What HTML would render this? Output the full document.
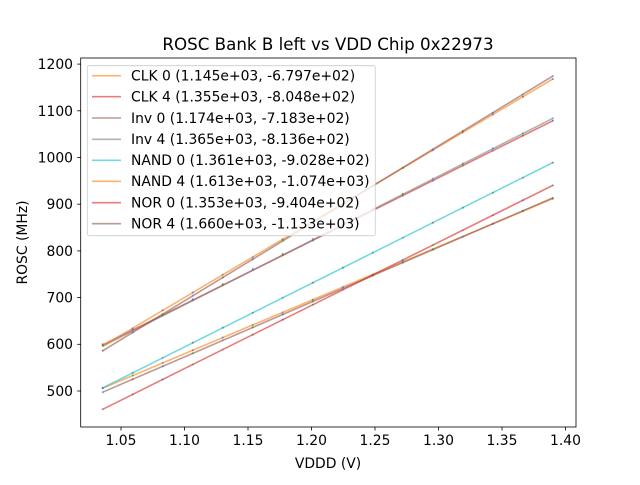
<!DOCTYPE html>
<html><head><meta charset="utf-8"><style>
body{margin:0;background:#fff}
text{font-family:"DejaVu Sans","Liberation Sans",sans-serif;fill:#000}
</style></head><body>
<svg id="s" width="640" height="480" xmlns="http://www.w3.org/2000/svg">
<rect width="640" height="480" fill="#fff"/>
<g id="lines" stroke-width="1.6" fill="none" stroke-opacity="0.6">
<line x1="102.7" y1="388.2" x2="552.8" y2="198.6" stroke="#ff7f0e"/>
<line x1="102.7" y1="345.0" x2="552.8" y2="120.8" stroke="#d62728"/>
<line x1="102.7" y1="392.2" x2="552.8" y2="197.9" stroke="#8c564b"/>
<line x1="102.7" y1="346.2" x2="552.8" y2="118.4" stroke="#7f7f7f"/>
<line x1="102.7" y1="387.9" x2="552.8" y2="162.6" stroke="#17becf"/>
<line x1="102.7" y1="346.0" x2="552.8" y2="79.0" stroke="#ff7f0e"/>
<line x1="102.7" y1="409.3" x2="552.8" y2="185.4" stroke="#d62728"/>
<line x1="102.7" y1="350.8" x2="552.8" y2="76.1" stroke="#8c564b"/>
</g>
<g id="dots"></g>
<rect x="80.7" y="58" width="495.3" height="369" fill="none" stroke="#000" stroke-width="0.8"/>
<g stroke="#000" stroke-width="0.8">
<line x1="121" y1="427" x2="121" y2="430.5"/><line x1="184.5" y1="427" x2="184.5" y2="430.5"/>
<line x1="248" y1="427" x2="248" y2="430.5"/><line x1="311.5" y1="427" x2="311.5" y2="430.5"/>
<line x1="375" y1="427" x2="375" y2="430.5"/><line x1="438.5" y1="427" x2="438.5" y2="430.5"/>
<line x1="502" y1="427" x2="502" y2="430.5"/><line x1="565.5" y1="427" x2="565.5" y2="430.5"/>
<line x1="77.2" y1="391" x2="80.7" y2="391"/><line x1="77.2" y1="344.3" x2="80.7" y2="344.3"/>
<line x1="77.2" y1="297.6" x2="80.7" y2="297.6"/><line x1="77.2" y1="250.9" x2="80.7" y2="250.9"/>
<line x1="77.2" y1="204.2" x2="80.7" y2="204.2"/><line x1="77.2" y1="157.5" x2="80.7" y2="157.5"/>
<line x1="77.2" y1="110.8" x2="80.7" y2="110.8"/><line x1="77.2" y1="64.1" x2="80.7" y2="64.1"/>
</g>
<g font-size="13.9" text-anchor="middle">
<text x="121" y="445">1.05</text><text x="184.5" y="445">1.10</text><text x="248" y="445">1.15</text>
<text x="311.5" y="445">1.20</text><text x="375" y="445">1.25</text><text x="438.5" y="445">1.30</text>
<text x="502" y="445">1.35</text><text x="565.5" y="445">1.40</text>
</g>
<g font-size="13.9" text-anchor="end">
<text x="73" y="396">500</text><text x="73" y="349">600</text><text x="73" y="302.5">700</text>
<text x="73" y="256">800</text><text x="73" y="209">900</text><text x="73" y="162.5">1000</text>
<text x="73" y="116">1100</text><text x="73" y="69">1200</text>
</g>
<text x="328" y="468" font-size="13.9" text-anchor="middle">VDDD (V)</text>
<text transform="translate(27,242.5) rotate(-90)" font-size="13.9" text-anchor="middle">ROSC (MHz)</text>
<text x="328" y="50" font-size="16.7" text-anchor="middle">ROSC Bank B left vs VDD Chip 0x22973</text>
<rect x="87.3" y="65.7" width="288" height="170" rx="2" fill="#fff" fill-opacity="0.8" stroke="#ccc" stroke-width="0.8"/>
<g stroke-width="1.6" stroke-opacity="0.6">
<line x1="92" y1="75.7" x2="121" y2="75.7" stroke="#ff7f0e"/>
<line x1="92" y1="96.7" x2="121" y2="96.7" stroke="#d62728"/>
<line x1="92" y1="118" x2="121" y2="118" stroke="#8c564b"/>
<line x1="92" y1="139.3" x2="121" y2="139.3" stroke="#7f7f7f"/>
<line x1="92" y1="160.3" x2="121" y2="160.3" stroke="#17becf"/>
<line x1="92" y1="181.3" x2="121" y2="181.3" stroke="#ff7f0e"/>
<line x1="92" y1="202.7" x2="121" y2="202.7" stroke="#d62728"/>
<line x1="92" y1="223.7" x2="121" y2="223.7" stroke="#8c564b"/>
</g>
<g font-size="13.9">
<text x="131" y="80.5">CLK 0 (1.145e+03, -6.797e+02)</text>
<text x="131" y="101.5">CLK 4 (1.355e+03, -8.048e+02)</text>
<text x="131" y="122.8">Inv 0 (1.174e+03, -7.183e+02)</text>
<text x="131" y="144">Inv 4 (1.365e+03, -8.136e+02)</text>
<text x="131" y="165">NAND 0 (1.361e+03, -9.028e+02)</text>
<text x="131" y="186">NAND 4 (1.613e+03, -1.074e+03)</text>
<text x="131" y="207.5">NOR 0 (1.353e+03, -9.404e+02)</text>
<text x="131" y="228.5">NOR 4 (1.660e+03, -1.133e+03)</text>
</g>
</svg>
<script>
(function(){
var L=[[1145,-679.7],[1355,-804.8],[1174,-718.3],[1365,-813.6],[1361,-902.8],[1613,-1074],[1353,-940.4],[1660,-1133]];
var cols=["#1f77b4","#2ca02c","#9467bd","#8c564b"];
var g=document.getElementById("dots"),s="";
for(var k=0;k<L.length;k++){for(var i=0;i<16;i++){var x=1.0356+i*(1.39-1.0356)/15;var v=L[k][0]*x+L[k][1];
var px=121+(x-1.05)*1270,py=391-(v-500)*0.467;
s+='<circle cx="'+px.toFixed(1)+'" cy="'+py.toFixed(1)+'" r="1" fill="'+cols[(k+i)%4]+'" fill-opacity="0.7"/>';}}
g.innerHTML=s;
})();
</script>
</body></html>
